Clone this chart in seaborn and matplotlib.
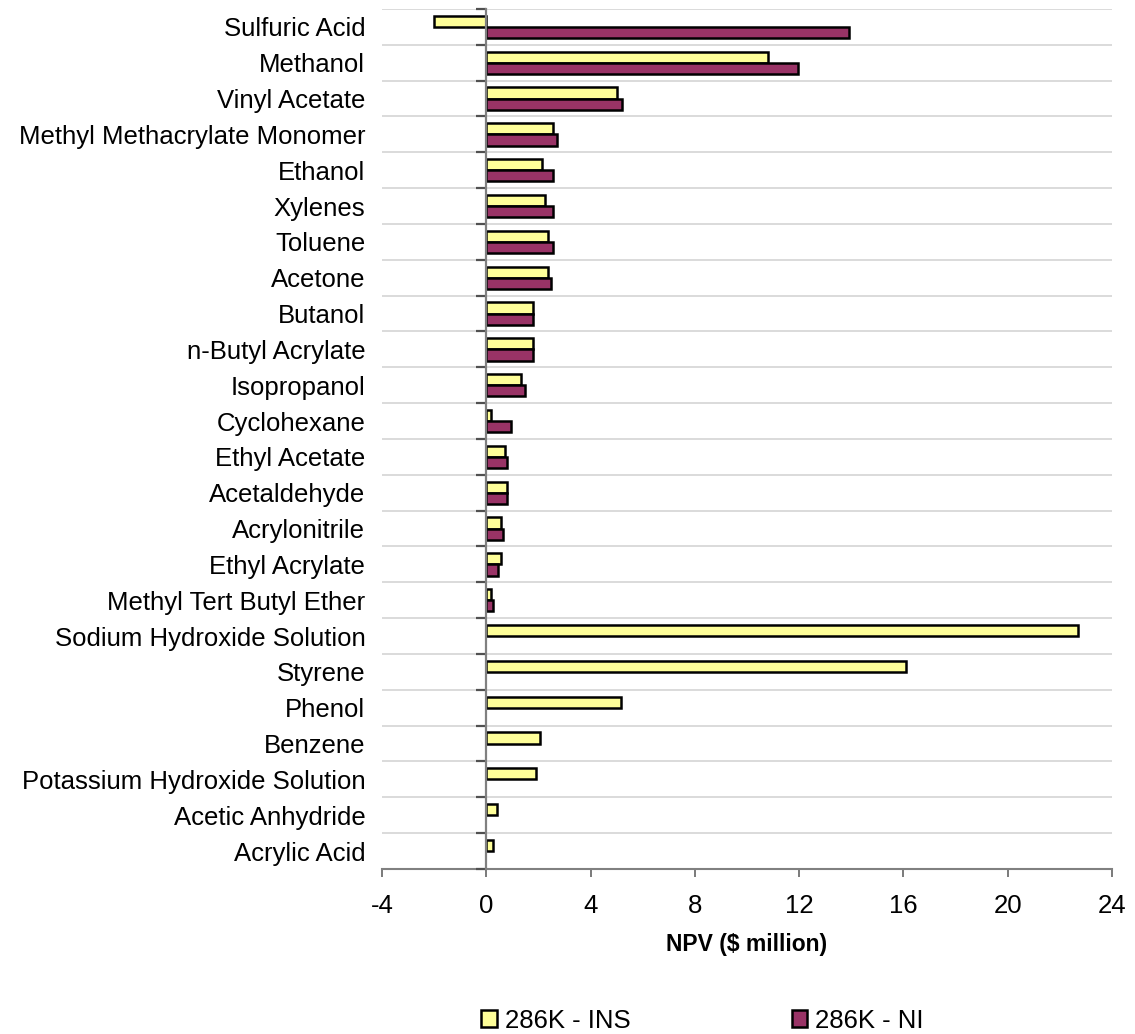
import numpy as np
import pandas as pd
import matplotlib
matplotlib.use("Agg")
import matplotlib.pyplot as plt
from matplotlib.patches import Patch
import seaborn as sns

# --- Data ---
chemicals = [
    "Sulfuric Acid", "Methanol", "Vinyl Acetate", "Methyl Methacrylate Monomer",
    "Ethanol", "Xylenes", "Toluene", "Acetone", "Butanol", "n-Butyl Acrylate",
    "Isopropanol", "Cyclohexane", "Ethyl Acetate", "Acetaldehyde", "Acrylonitrile",
    "Ethyl Acrylate", "Methyl Tert Butyl Ether", "Sodium Hydroxide Solution",
    "Styrene", "Phenol", "Benzene", "Potassium Hydroxide Solution",
    "Acetic Anhydride", "Acrylic Acid",
]
npv_ins = [-2.0, 10.8, 5.0, 2.55, 2.15, 2.25, 2.38, 2.38, 1.78, 1.78,
           1.32, 0.17, 0.70, 0.78, 0.55, 0.55, 0.17, 22.7,
           16.1, 5.15, 2.05, 1.9, 0.42, 0.26]
npv_ni = [13.9, 11.95, 5.2, 2.7, 2.55, 2.55, 2.55, 2.47, 1.78, 1.78,
          1.47, 0.93, 0.78, 0.78, 0.63, 0.46, 0.24, np.nan,
          np.nan, np.nan, np.nan, np.nan, np.nan, np.nan]
series = ["286K - INS", "286K - NI"]
colors = ["#FFFF99", "#993366"]
xticks = [-4, 0, 4, 8, 12, 16, 20, 24]

df = pd.concat([
    pd.DataFrame({"Chemical": chemicals, "NPV": npv_ins, "Series": series[0]}),
    pd.DataFrame({"Chemical": chemicals, "NPV": npv_ni, "Series": series[1]}),
]).dropna()

sns.set_style("white")
plt.rcParams['font.family'] = ['Liberation Sans', 'DejaVu Sans']
plt.rcParams['text.color'] = 'black'
plt.rcParams['axes.labelcolor'] = 'black'
plt.rcParams['xtick.color'] = 'black'
plt.rcParams['ytick.color'] = 'black'

fig = plt.figure(figsize=(11.35, 10.34), dpi=100)
ax = fig.add_axes([0.3366, 0.1596, 0.6431, 0.8317])

sns.barplot(data=df, y="Chemical", x="NPV", hue="Series", order=chemicals,
            hue_order=series, palette=colors, width=0.62, orient="h",
            edgecolor="black", linewidth=1.8, saturation=1, ax=ax,
            legend=False)

n = len(chemicals)
ax.set_ylim(n - 0.5, -0.5)
ax.set_xlim(-4, 24)
ax.set_xticks(xticks)
ax.set_xticklabels([str(t) for t in xticks], fontsize=18.5)
ax.set_yticks(range(n))
ax.set_yticklabels(chemicals, fontsize=18.5)
ax.tick_params(axis="y", length=0, pad=12)
ax.tick_params(axis="x", bottom=True, length=6, width=1.3, color="#707070",
               direction="out", pad=12, labelcolor="black")

# horizontal gridlines at category boundaries
bounds = np.arange(n + 1) - 0.5
ax.set_yticks(bounds, minor=True)
ax.tick_params(axis="y", which="minor", length=0)
ax.grid(which="minor", axis="y", color="#d4d4d4", linewidth=1.2)
ax.grid(which="major", axis="both", visible=False)
ax.set_axisbelow(True)

for s in ["top", "right", "left"]:
    ax.spines[s].set_visible(False)
ax.spines["bottom"].set_color("#808080")
ax.spines["bottom"].set_linewidth(1.5)

# category axis drawn at x = 0 with tick marks between categories
sec = ax.secondary_yaxis(4 / 28)
sec.set_zorder(5)
sec.set_yticks(bounds)
sec.set_yticklabels([])
sec.tick_params(left=True, length=7, width=1.6, color="#505050", direction="out")
sec.spines["left"].set_color("#808080")
sec.spines["left"].set_linewidth(1.6)

ax.set_ylabel("")
ax.set_xlabel("NPV ($ million)", fontsize=16.5, fontweight="bold", labelpad=11)

handles = [Patch(facecolor=c, edgecolor="black", linewidth=1.8) for c in colors]
fig.legend(handles, series, loc="center", bbox_to_anchor=(0.619, 0.013),
           ncol=2, frameon=False, fontsize=18.5, handlelength=0.6,
           handleheight=0.6, handletextpad=0.3, columnspacing=6.3)

fig.savefig("out.png", dpi=100)
